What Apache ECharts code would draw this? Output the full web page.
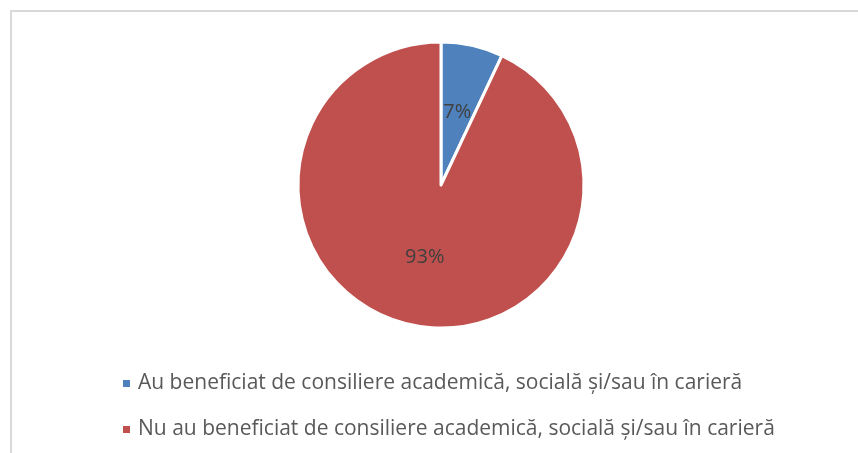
<!DOCTYPE html>
<html>
<head>
<meta charset="utf-8">
<script src="https://cdn.jsdelivr.net/npm/echarts@6/dist/echarts.min.js"></script>
<style>
  html, body { margin: 0; padding: 0; background: #fff; }
  #chart { width: 858px; height: 453px; }
</style>
</head>
<body>
<div id="chart"></div>
<script>
// date extrase din grafic
var categories = [
  'Au beneficiat de consiliere academică, socială și/sau în carieră',
  'Nu au beneficiat de consiliere academică, socială și/sau în carieră'
];
var values = [7, 93];
var colors = ['#4f81bd', '#c0504d'];

var myChart = echarts.init(document.getElementById('chart'));

var option = {
  animation: false,
  color: colors,
  // chenarul gri al zonei de grafic
  graphic: [{
    type: 'rect',
    shape: { x: 11, y: 11, width: 860, height: 460 },
    style: { fill: 'none', stroke: '#d9d9d9', lineWidth: 2 }
  }],
  legend: {
    orient: 'vertical',
    left: 116,
    top: 368,
    itemWidth: 9,
    itemHeight: 9,
    itemGap: 25,
    icon: 'rect',
    textStyle: {
      fontFamily: 'Open Sans',
      fontSize: 21,
      color: '#595959',
      padding: [0, 0, 0, 2]
    },
    data: categories
  },
  series: [{
    type: 'pie',
    center: [441, 185],
    radius: [0, 143],
    startAngle: 90,
    clockwise: true,
    itemStyle: { borderColor: '#fff', borderWidth: 3 },
    label: {
      position: 'inside',
      formatter: '{c}%',
      fontFamily: 'Open Sans',
      fontSize: 20,
      color: '#404040'
    },
    labelLine: { show: false },
    data: categories.map(function (name, i) {
      return { name: name, value: values[i] };
    })
  }]
};

myChart.setOption(option);
</script>
</body>
</html>
